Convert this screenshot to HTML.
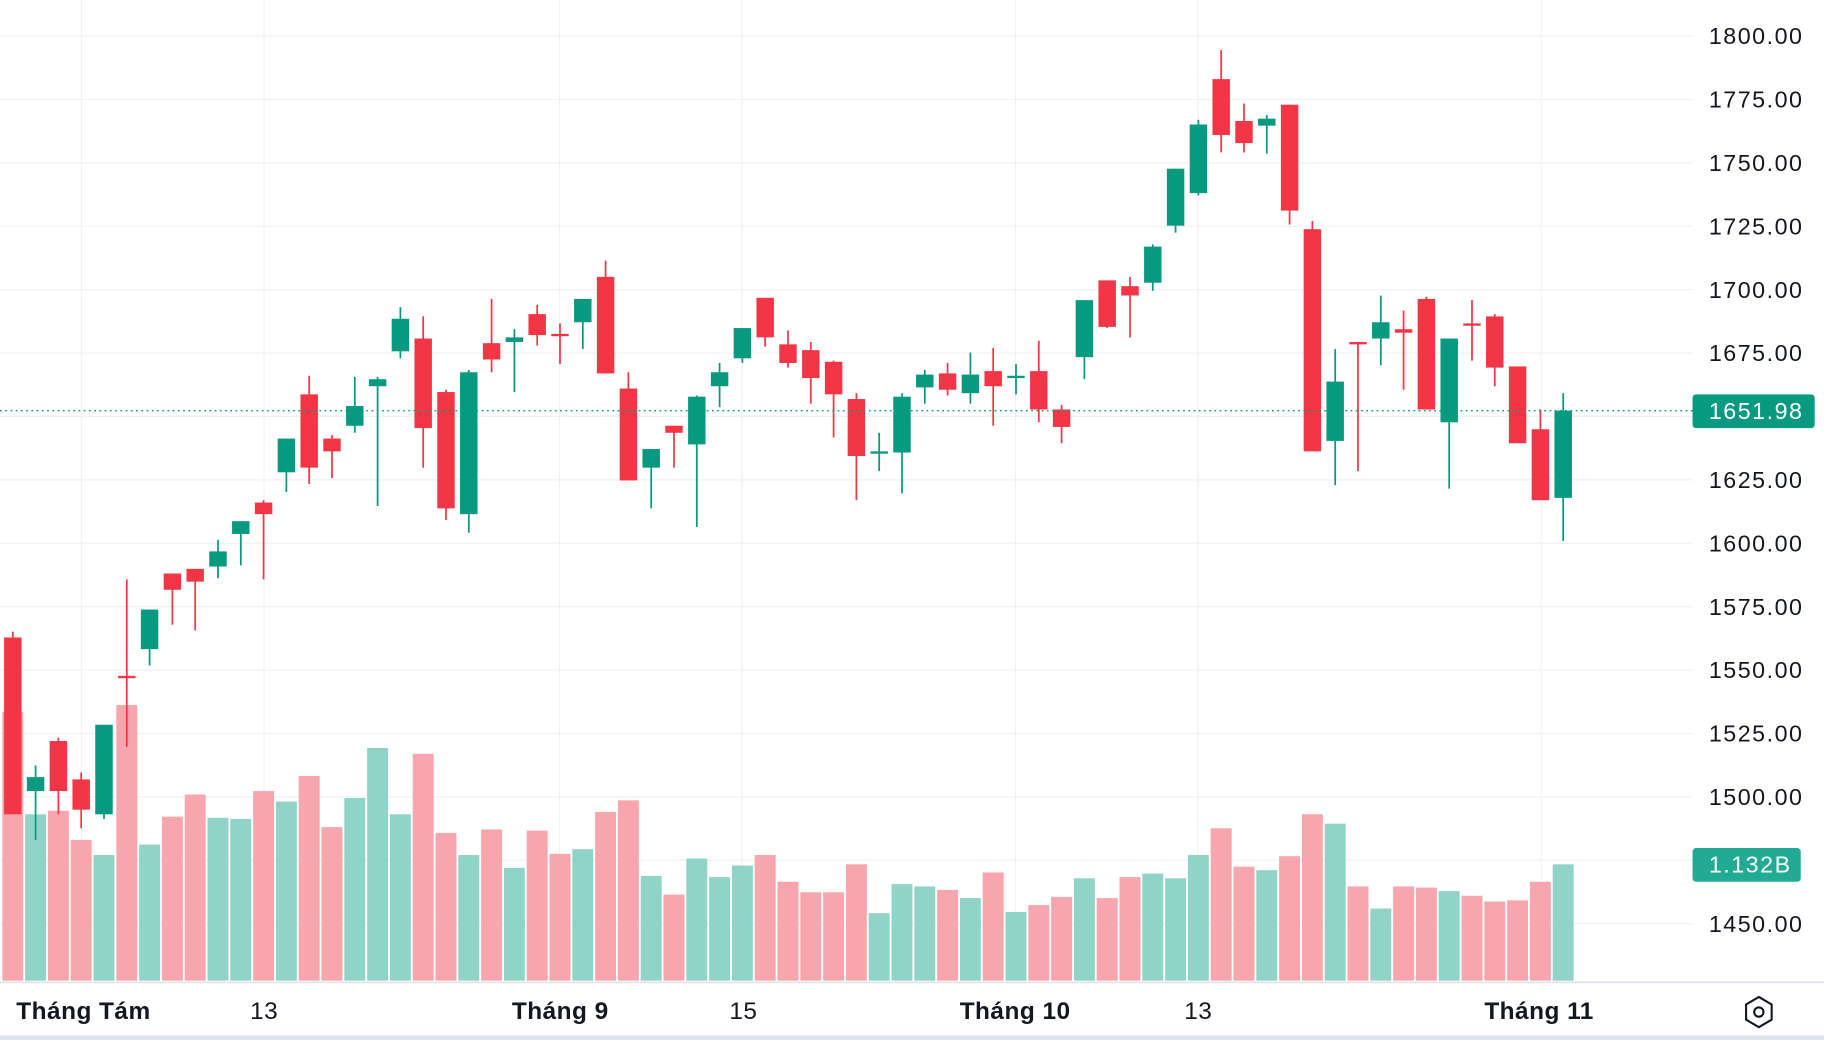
<!DOCTYPE html>
<html><head><meta charset="utf-8"><style>
html,body{margin:0;padding:0;background:#fff;width:1824px;height:1040px;overflow:hidden}
text{font-family:"Liberation Sans",sans-serif}
</style></head><body>
<svg id="s" width="1824" height="1040" viewBox="0 0 1568 894" xmlns="http://www.w3.org/2000/svg">
<rect width="1568" height="894" fill="#fff"/>
<g id="grid"></g><g id="vol"></g><g id="cand"></g><g id="ax"></g>
</svg>
<script>
const NS="http://www.w3.org/2000/svg";
function el(p,t,a,txt){const e=document.createElementNS(NS,t);for(const k in a)e.setAttribute(k,a[k]);if(txt!=null)e.textContent=txt;document.getElementById(p).appendChild(e);return e;}
const R="#f23645",G="#089981",VR="#f7a6ad",VG="#90d4c7";
for(let i=0;i<=14;i++){const y=31+i*54.5;el("grid","line",{x1:0,x2:1455,y1:y,y2:y,stroke:"#f0f1f3","stroke-width":1});}
[70,227,481,638,873,1030,1325].forEach(x=>el("grid","line",{x1:x,x2:x,y1:0,y2:843,stroke:"#f0f1f3","stroke-width":1}));
const C=[
[548,700,543,700,R],[668,680,658,722,G],[637,680,634,700,R],[670,696,664,712,R],[623,700,623,704,G],
[581,583,498,642,R],[524,558,524,572,G],[493,507,493,537,R],[489,500,489,542,R],[474,487,464,497,G],
[448,459,448,486,G],[432,442,430,498,R],[377,406,377,423,G],[339,402,323,416,R],[377,388,374,411,R],
[349,366,324,372,G],[326,332,324,435,G],[274,302,264,308,G],[291,368,272,402,R],[337,437,335,447,R],
[320,442,318,458,G],[295,309,257,320,R],[290,294,283,337,G],[270,288,262,297,R],[287,289,278,313,R],
[257,277,257,300,G],[238,321,224,321,R],[334,413,320,413,R],[386,402,386,437,G],[366,372,366,402,R],
[341,382,340,453,G],[320,332,312,350,G],[282,308,282,312,G],[256,290,256,298,R],[296,312,284,316,R],
[301,325,294,347,R],[311,339,310,376,R],[343,392,338,430,R],[388,390,372,405,G],[341,389,338,424,G],
[322,333,318,347,G],[321,335,312,340,R],[322,338,303,347,G],[319,332,299,366,R],[323,325,313,339,G],
[319,352,293,363,R],[352,367,348,381,R],[258,307,258,326,G],[241,281,241,282,R],[246,254,238,290,R],
[212,243,210,250,G],[145,194,145,200,G],[107,166,103,168,G],[68,116,43,131,R],[104,123,89,131,R],
[102,108,99,132,G],[90,181,90,193,R],[197,388,190,388,R],[328,379,300,417,G],[294,296,294,405,R],
[277,291,254,314,G],[283,286,267,335,R],[257,352,255,352,R],[291,363,291,420,G],[278,280,258,310,R],
[272,316,270,332,R],[315,381,315,381,R],[369,430,352,430,R],[353,428,338,465,G]];
const V=[612,700,697,722,735,606,726,702,683,703,704,680,689,667,711,686,643,700,648,716,735,713,746,714,734,730,698,688,753,769,738,754,744,735,758,767,767,743,785,760,762,765,772,750,784,778,771,755,772,754,751,755,735,712,745,748,736,700,708,762,781,762,763,766,770,775,774,758,743];
C.forEach((c,i)=>{const x=11+i*19.6;const v=V[i];
el("vol","rect",{x:x-9,y:v,width:18,height:843-v,fill:c[4]==R?VR:VG});
el("cand","line",{x1:x,x2:x,y1:c[2],y2:c[3],stroke:c[4],"stroke-width":1.5});
el("cand","rect",{x:x-7.5,y:c[0],width:15,height:Math.max(1.5,c[1]-c[0]),fill:c[4]});});
el("ax","line",{x1:0,x2:1455,y1:353,y2:353,stroke:G,"stroke-width":1.2,"stroke-dasharray":"1.5 3"});
const P=["1800.00","1775.00","1750.00","1725.00","1700.00","1675.00","1650.00","1625.00","1600.00","1575.00","1550.00","1525.00","1500.00","1475.00","1450.00"];
const LS={"font-size":20,"letter-spacing":1.3};
P.forEach((t,i)=>{if(t=="1650.00"||t=="1475.00")return;el("ax","text",Object.assign({x:1469,y:31+i*54.5+7,fill:"#131722"},LS),t);});
el("ax","rect",{x:1455,y:339,width:105,height:29,rx:3,fill:G});
el("ax","text",Object.assign({x:1469,y:360,fill:"#fff"},LS),"1651.98");
el("ax","rect",{x:1455,y:729,width:93,height:29,rx:3,fill:"#22ab94"});
el("ax","text",Object.assign({x:1469,y:750,fill:"#fff"},LS),"1.132B");
el("ax","line",{x1:0,x2:1568,y1:844.5,y2:844.5,stroke:"#e0e3eb","stroke-width":1.5});
el("ax","rect",{x:0,y:890,width:1568,height:4,fill:"#e0e3eb"});
[["Tháng Tám",14,1],["13",215,0],["Tháng 9",440,1],["15",627,0],["Tháng 10",825,1],["13",1018,0],["Tháng 11",1276,1]].forEach(l=>
el("ax","text",{x:l[1],y:876,"font-size":21,"letter-spacing":0.4,fill:"#131722","font-weight":l[2]?"bold":"normal"},l[0]));
el("ax","polygon",{points:"1512,857 1523,863.5 1523,876.5 1512,883 1501,876.5 1501,863.5",fill:"none",stroke:"#131722","stroke-width":1.8});
el("ax","circle",{cx:1512,cy:870,r:4,fill:"none",stroke:"#131722","stroke-width":1.8});
</script>
</body></html>
